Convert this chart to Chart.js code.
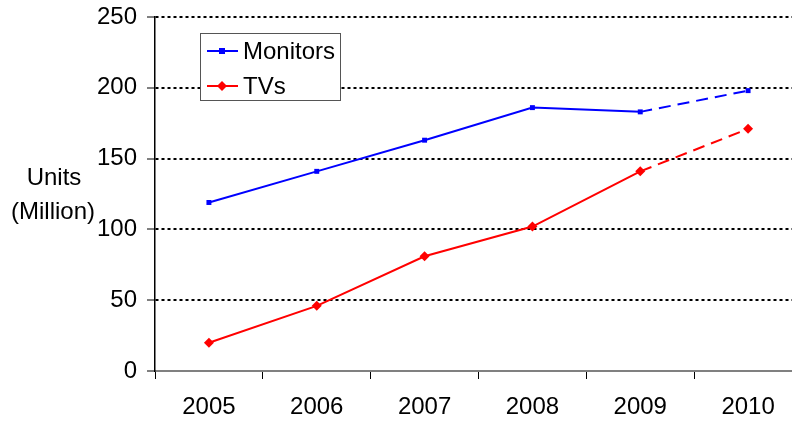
<!DOCTYPE html>
<html>
<head>
<meta charset="utf-8">
<script src="https://cdn.jsdelivr.net/npm/chart.js@4"></script>
<style>
    html, body { margin: 0; padding: 0; background: #fff; overflow: hidden; }
    #wrap { position: absolute; left: 0; top: 0; width: 807px; height: 421px; }
</style>
</head>
<body>
<div id="wrap"><canvas id="unitsChart"></canvas></div>
<script>
// chart data
const years = ['2005', '2006', '2007', '2008', '2009', '2010'];
const monitors = [119, 141, 163, 186, 183, 198];
const tvs = [20, 46, 81, 102, 141, 171];
const yTicks = [0, 50, 100, 150, 200, 250];

const FONT = 'Arial, "Liberation Sans", sans-serif';

// dashed segment for the forecast year
const lastDash = ctx => ctx.p1DataIndex === years.length - 1 ? [12, 7] : undefined;

// free-standing y title and boxed legend
const extras = {
    id: 'extras',
    afterDraw(chart) {
        const ctx = chart.ctx;
        ctx.save();
        ctx.fillStyle = '#000';
        ctx.font = '24px ' + FONT;
        ctx.textAlign = 'center';
        ctx.textBaseline = 'middle';
        ctx.fillText('Units', 54, 178);
        ctx.fillText('(Million)', 53, 212);

        // legend box
        ctx.fillStyle = '#fff';
        ctx.fillRect(200, 33, 140, 67);
        ctx.strokeStyle = '#555';
        ctx.lineWidth = 1;
        ctx.strokeRect(200.5, 33.5, 140, 67);

        const rows = chart.data.datasets.map((ds, i) => ({ ds, y: 51 + i * 35 }));
        rows.forEach(({ ds, y }) => {
            ctx.strokeStyle = ds.borderColor;
            ctx.lineWidth = 2;
            ctx.beginPath();
            ctx.moveTo(207, y);
            ctx.lineTo(238, y);
            ctx.stroke();
            ctx.fillStyle = ds.borderColor;
            if (ds.pointStyle === 'rect') {
                ctx.fillRect(219, y - 3, 6, 6);
            } else {
                ctx.beginPath();
                ctx.moveTo(222, y - 5);
                ctx.lineTo(227, y);
                ctx.lineTo(222, y + 5);
                ctx.lineTo(217, y);
                ctx.closePath();
                ctx.fill();
            }
            ctx.fillStyle = '#000';
            ctx.font = '24px ' + FONT;
            ctx.textAlign = 'left';
            ctx.fillText(ds.label, 243, y + 1);
        });
        ctx.restore();
    }
};

new Chart(document.getElementById('unitsChart'), {
    type: 'line',
    data: {
        labels: years,
        datasets: [
            {
                label: 'Monitors',
                data: monitors,
                borderColor: '#0000ff',
                backgroundColor: '#0000ff',
                borderWidth: 2,
                pointStyle: 'rect',
                pointRadius: 3.5,
                pointBorderWidth: 0,
                tension: 0,
                segment: { borderDash: lastDash }
            },
            {
                label: 'TVs',
                data: tvs,
                borderColor: '#ff0000',
                backgroundColor: '#ff0000',
                borderWidth: 2,
                pointStyle: 'rectRot',
                pointRadius: 5,
                pointBorderWidth: 0,
                tension: 0,
                segment: { borderDash: lastDash }
            }
        ]
    },
    options: {
        responsive: true,
        maintainAspectRatio: false,
        animation: false,
        layout: { padding: { top: 17, right: 0, bottom: 0, left: 0 } },
        plugins: {
            legend: { display: false },
            tooltip: { enabled: false }
        },
        scales: {
            x: {
                offset: true,
                grid: {
                    offset: true,
                    drawOnChartArea: false,
                    drawTicks: true,
                    tickLength: 8,
                    tickColor: '#000',
                    tickWidth: 1
                },
                border: { display: true, color: '#808080', width: 2 },
                ticks: {
                    color: '#000',
                    padding: 14,
                    maxRotation: 0,
                    font: { family: FONT, size: 24 }
                },
                afterFit: scale => { scale.height = 50; }
            },
            y: {
                min: 0,
                max: 250,
                afterBuildTicks: scale => { scale.ticks = yTicks.map(v => ({ value: v })); },
                grid: {
                    color: c => c.tick && c.tick.value === 0 ? 'rgba(0,0,0,0)' : '#000',
                    lineWidth: 2,
                    tickColor: '#000',
                    tickWidth: 1,
                    tickLength: 8
                },
                border: { display: true, color: '#000', width: 1.5, dash: [3, 3] },
                ticks: {
                    color: '#000',
                    padding: 10,
                    font: { family: FONT, size: 24 }
                },
                afterFit: scale => {
                    scale.width = 155;
                    scale.paddingTop = 0;
                    scale.paddingBottom = 0;
                }
            }
        }
    },
    plugins: [extras]
});
</script>
</body>
</html>
